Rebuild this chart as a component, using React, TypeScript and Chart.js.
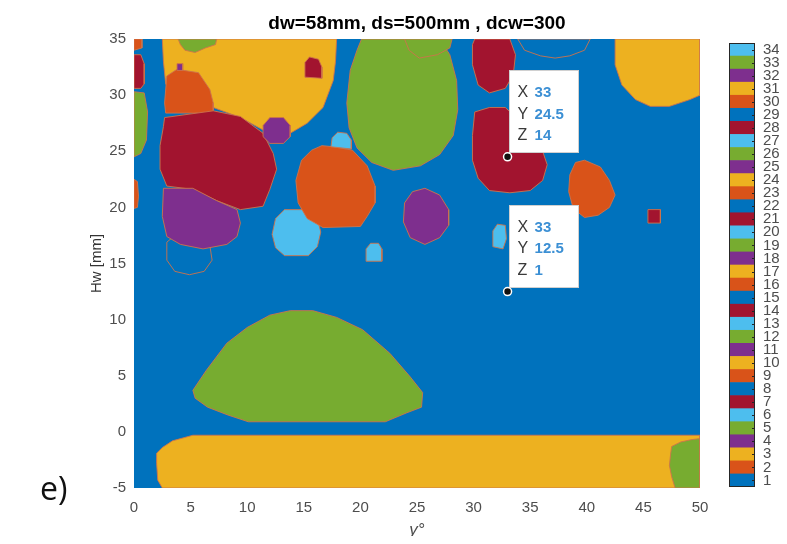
import React, { useEffect, useRef } from 'react';
import { Chart, registerables } from 'chart.js';

Chart.register(...registerables);

const FONT = '"Liberation Sans", Arial, Helvetica, sans-serif';
const TEXT_GREY = '#4d4d4d';

// MATLAB "lines" colour order, cycled by region label
const LINE_COLORS = ['#0072BD', '#D95319', '#EDB120', '#7E2F8E', '#77AC30', '#4DBEEE', '#A2142F'];
const colorOfLabel = (z: number) => LINE_COLORS[(z - 1) % LINE_COLORS.length];

// axis ranges and ticks
const X_RANGE = [0, 50];
const Y_RANGE = [-5, 35];
const TICK_STEP = 5;
const LABEL_LEVELS = Array.from({ length: 34 }, (_, i) => i + 1);

type Pt = [number, number];

// labelled regions: outline vertices in (gamma, Hw)
const background: Pt[] = [[0, -5], [50, -5], [50, 35], [0, 35]];
const bottomBand: Pt[] = [[2.5, -5], [2.1, -4.3], [2.0, -2.8], [2.0, -1.9], [2.5, -1.4], [3.4, -0.8], [5.2, -0.3], [50, -0.3], [50, -5]];
const bottomRightGreen: Pt[] = [[47.8, -5], [47.5, -4], [47.3, -3], [47.4, -2], [47.5, -1.3], [48.3, -0.9], [49.2, -0.7], [50, -0.6], [50, -5]];
const dome: Pt[] = [[5.2, 3.7], [6.4, 5.5], [8.2, 7.9], [10.0, 9.3], [12.0, 10.4], [13.8, 10.8], [15.8, 10.8], [17.9, 10.2], [20.2, 9.1], [22.6, 7.0], [24.4, 4.9], [25.5, 3.5], [25.4, 2.2], [24.1, 1.7], [22.2, 0.9], [10.1, 0.9], [8.3, 1.5], [6.5, 2.2], [5.4, 3.0]];
const upperLeftYellow: Pt[] = [[2.5, 35], [17.9, 35], [17.8, 33], [17.6, 31.3], [16.7, 28.9], [15.3, 27.5], [13.8, 26.6], [12.5, 26.5], [11.4, 26.9], [9.4, 28.0], [7.0, 28.9], [4.0, 29.5], [2.8, 31], [2.6, 33]];
const topNotchGreen: Pt[] = [[3.9, 35], [7.3, 35], [7.2, 34.5], [6.3, 34.2], [5.4, 33.8], [4.5, 34.0], [4.1, 34.5]];
const upperLeftOrange: Pt[] = [[2.8, 28.4], [2.7, 29.3], [2.9, 31.7], [3.8, 32.3], [5.7, 32.0], [6.7, 30.5], [7.0, 29.3], [7.0, 28.4]];
const tinyPurple: Pt[] = [[3.8, 32.2], [3.8, 32.8], [4.3, 32.8], [4.3, 32.2]];
const leftRed: Pt[] = [[2.7, 28.0], [7.0, 28.6], [9.4, 28.1], [11.4, 26.6], [12.3, 24.8], [12.6, 23.4], [12.0, 21.6], [11.4, 20.1], [9.4, 19.8], [7.3, 20.6], [5.2, 21.6], [2.9, 21.9], [2.3, 23.4], [2.3, 25.5], [2.6, 27.2]];
const hollowRing: Pt[] = [[2.9, 16.9], [3.5, 17.4], [6.0, 17.4], [6.7, 16.6], [6.9, 15.3], [6.2, 14.3], [4.9, 14.0], [3.6, 14.3], [2.9, 15.3]];
const leftPurple: Pt[] = [[2.6, 21.7], [5.2, 21.7], [7.3, 20.6], [9.1, 19.8], [9.4, 18.6], [9.1, 17.4], [8.2, 16.7], [6.1, 16.3], [4.1, 16.7], [2.9, 17.4], [2.5, 19.2]];
const cyanDisc: Pt[] = [[13.3, 19.8], [15.3, 19.8], [16.2, 19.0], [16.5, 17.8], [16.2, 16.5], [15.4, 15.7], [13.3, 15.7], [12.5, 16.4], [12.2, 17.6], [12.5, 19.0]];
const smallPurple: Pt[] = [[12.0, 28.0], [13.2, 28.0], [13.8, 27.3], [13.8, 26.3], [13.2, 25.7], [12.0, 25.7], [11.4, 26.3], [11.4, 27.3]];
const redInYellow: Pt[] = [[15.1, 31.6], [15.1, 32.9], [15.5, 33.4], [16.3, 33.2], [16.6, 32.5], [16.6, 31.5]];
const midOrange: Pt[] = [[16.6, 25.5], [17.6, 25.4], [19.3, 25.1], [20.6, 23.7], [21.3, 21.9], [21.3, 20.4], [20.6, 19.2], [20.0, 18.3], [16.7, 18.2], [15.3, 19.0], [14.5, 20.4], [14.3, 22.4], [14.8, 24.2], [15.7, 25.1]];
const cyanKnob: Pt[] = [[17.4, 25.4], [17.5, 26.2], [18.0, 26.7], [18.8, 26.6], [19.2, 26.0], [19.2, 25.2]];
const bigGreen: Pt[] = [[18.8, 29.3], [19.1, 32.2], [19.7, 34.0], [20.1, 35], [27.0, 35], [27.9, 33.6], [28.5, 31.3], [28.6, 28.7], [28.2, 26.4], [27.0, 24.7], [25.3, 23.7], [22.9, 23.3], [21.0, 24.0], [19.7, 25.3], [19.0, 27.1]];
const greenCap: Pt[] = [[23.9, 35], [28.1, 35], [27.9, 34.2], [26.8, 33.6], [25.2, 33.3], [24.3, 34.0]];
const midPurple: Pt[] = [[25.7, 21.7], [27.0, 21.1], [27.8, 19.8], [27.8, 18.4], [27.0, 17.3], [25.7, 16.7], [24.4, 17.3], [23.8, 18.7], [23.9, 20.4], [24.6, 21.4]];
const smallCyanA: Pt[] = [[20.5, 15.2], [20.5, 16.3], [20.9, 16.8], [21.6, 16.8], [21.9, 16.3], [21.9, 15.2]];
const smallCyanB: Pt[] = [[31.7, 16.5], [31.7, 17.9], [32.1, 18.5], [32.8, 18.4], [32.9, 17.2], [32.6, 16.3]];
const topRed: Pt[] = [[30.1, 35], [33.2, 35], [33.7, 33.6], [33.5, 31.8], [32.8, 30.6], [31.4, 30.2], [30.4, 30.9], [29.9, 32.7], [29.9, 34.5]];
const rightRed: Pt[] = [[30.1, 28.5], [31.4, 28.9], [32.8, 28.9], [34.5, 27.3], [35.9, 25.6], [36.5, 23.8], [36.1, 22.4], [35.0, 21.5], [33.2, 21.3], [31.4, 21.5], [30.4, 22.6], [29.9, 24.2], [29.9, 26.4]];
const rightOrange: Pt[] = [[39.8, 24.2], [41.2, 23.6], [42.0, 22.4], [42.5, 21.1], [42.0, 20.0], [41.0, 19.3], [39.8, 19.1], [38.8, 19.9], [38.4, 21.4], [38.5, 22.9], [39.0, 24.0]];
const topRightYellow: Pt[] = [[42.5, 35], [50, 35], [50, 30.0], [49.1, 29.6], [47.3, 29.0], [45.6, 29.0], [44.3, 29.6], [43.1, 30.9], [42.5, 32.7]];
const hollowTop: Pt[] = [[33.9, 35], [40.3, 35], [39.8, 34.0], [38.5, 33.5], [37.2, 33.3], [35.9, 33.5], [34.5, 34.0]];
const redSquare: Pt[] = [[45.4, 18.6], [45.4, 19.8], [46.5, 19.8], [46.5, 18.6]];
const edgeOrange: Pt[] = [[0, 34.0], [0, 35], [0.7, 35], [0.7, 34.2]];
const edgeRed: Pt[] = [[0, 30.6], [0, 33.6], [0.6, 33.6], [0.9, 32.8], [0.9, 31.0], [0.6, 30.6]];
const edgeGreen: Pt[] = [[0, 24.5], [0, 30.3], [0.9, 30.2], [1.2, 28.5], [1.1, 26.0], [0.6, 24.8]];
const edgeOrangeLow: Pt[] = [[0, 19.9], [0, 22.5], [0.3, 22.3], [0.4, 21], [0.3, 20]];

// region labels (Z), listed bottom-most first
const regionLabels = [1, 3, 5, 12, 10, 19, 9, 25, 7, 8, 4, 6, 11, 21, 16, 13, 26, 33, 18, 20, 27, 28, 14, 30, 31, 22, 21, 2, 7, 5, 23];
const regionOutlines: Pt[][] = [
  background, bottomBand, bottomRightGreen, dome, upperLeftYellow, topNotchGreen, upperLeftOrange, tinyPurple,
  leftRed, hollowRing, leftPurple, cyanDisc, smallPurple, redInYellow, midOrange, cyanKnob, bigGreen, greenCap,
  midPurple, smallCyanA, smallCyanB, topRed, rightRed, rightOrange, topRightYellow, hollowTop, redSquare,
  edgeOrange, edgeRed, edgeGreen, edgeOrangeLow,
];

// data tips
const tipX = [33, 33];
const tipY = [24.5, 12.5];
const tipZ = [14, 1];

const TITLE = 'dw=58mm, ds=500mm , dcw=300';
const X_TITLE = 'γ°';
const Y_TITLE = 'Hw [mm]';
const PANEL_TAG = 'e)';

const dataTipPlugin = {
  id: 'dataTips',
  afterDatasetsDraw(chart: any) {
    const { ctx, scales } = chart;
    ctx.save();
    tipX.forEach((tx, i) => {
      const px = scales.x.getPixelForValue(tx);
      const py = scales.y.getPixelForValue(tipY[i]);
      const left = Math.round(px) + 1.5;
      const top = Math.round(py) - 86.5;
      ctx.fillStyle = '#ffffff';
      ctx.fillRect(left, top, 69, 82);
      ctx.strokeStyle = '#d0d0d0';
      ctx.lineWidth = 1;
      ctx.strokeRect(left, top, 69, 82);
      const rows: [string, number][] = [['X', tx], ['Y', tipY[i]], ['Z', tipZ[i]]];
      ctx.textBaseline = 'middle';
      ctx.textAlign = 'left';
      rows.forEach(([k, v], r) => {
        const ry = py - 64 + r * 21.5;
        ctx.fillStyle = '#3a3a3a';
        ctx.font = `16px ${FONT}`;
        ctx.fillText(k, px + 10, ry);
        ctx.fillStyle = '#3b8fd4';
        ctx.font = `bold 15px ${FONT}`;
        ctx.fillText(String(v), px + 27, ry);
      });
      ctx.beginPath();
      ctx.arc(px, py, 4, 0, Math.PI * 2);
      ctx.fillStyle = '#111';
      ctx.fill();
      ctx.lineWidth = 1.5;
      ctx.strokeStyle = '#ffffff';
      ctx.stroke();
    });
    ctx.restore();
  },
};

const colorbarFramePlugin = {
  id: 'colorbarFrame',
  afterDatasetsDraw(chart: any) {
    const { ctx, chartArea: a, scales } = chart;
    ctx.save();
    ctx.strokeStyle = '#262626';
    ctx.lineWidth = 1;
    ctx.beginPath();
    LABEL_LEVELS.forEach((z) => {
      const y = Math.round(scales.y.getPixelForValue(z)) + 0.5;
      ctx.moveTo(a.right - 3, y);
      ctx.lineTo(a.right, y);
    });
    ctx.stroke();
    ctx.strokeRect(Math.round(a.left) + 0.5, Math.round(a.top) + 0.5, a.right - a.left - 1, a.bottom - a.top - 1);
    ctx.restore();
  },
};

export default function App() {
  const mainRef = useRef<HTMLCanvasElement | null>(null);
  const barRef = useRef<HTMLCanvasElement | null>(null);

  useEffect(() => {
    if (!mainRef.current || !barRef.current) return;

    const datasets = regionOutlines.map((pts, i) => {
      const z = regionLabels[i];
      const closed = [...pts, pts[0]];
      return {
        data: closed.map(([x, y]) => ({ x, y })),
        fill: 'shape',
        backgroundColor: colorOfLabel(z),
        borderColor: i === 0 ? colorOfLabel(z) : 'rgba(205,115,75,0.9)',
        borderWidth: i === 0 ? 0 : 1,
        pointRadius: 0,
        tension: 0,
        order: -i,
      };
    });

    const main = new Chart(mainRef.current, {
      type: 'line',
      data: { datasets: datasets as any },
      plugins: [dataTipPlugin],
      options: {
        responsive: false,
        animation: false,
        devicePixelRatio: 1,
        events: [],
        layout: { padding: { left: 0, right: 20, top: 0, bottom: 0 } },
        plugins: {
          legend: { display: false },
          tooltip: { enabled: false },
          title: {
            display: true,
            text: TITLE,
            fullSize: false,
            color: '#000',
            font: { family: FONT, size: 19, weight: 'bold' },
            padding: { top: 4, bottom: 4.2 },
          },
        },
        scales: {
          x: {
            type: 'linear',
            min: X_RANGE[0],
            max: X_RANGE[1],
            grid: { display: false, drawTicks: false },
            border: { display: false },
            ticks: { stepSize: TICK_STEP, color: TEXT_GREY, font: { family: FONT, size: 15 }, padding: 11, maxRotation: 0, autoSkip: false },
            title: { display: true, text: X_TITLE, color: TEXT_GREY, font: { family: FONT, size: 17, style: 'italic' }, padding: { top: 0, bottom: -4 } },
            afterFit: (s: any) => { s.height = 48; s.paddingLeft = 0; s.paddingRight = 0; },
          },
          y: {
            type: 'linear',
            min: Y_RANGE[0],
            max: Y_RANGE[1],
            grid: { display: false, drawTicks: false },
            border: { display: false },
            ticks: { stepSize: TICK_STEP, color: TEXT_GREY, font: { family: FONT, size: 15 }, padding: 8, autoSkip: false },
            title: { display: true, text: Y_TITLE, color: '#333', font: { family: FONT, size: 15 }, padding: { top: 80, bottom: 0 } },
            afterFit: (s: any) => { s.width = 126; s.paddingTop = 0; s.paddingBottom = 0; },
          },
        },
      },
    });

    const bar = new Chart(barRef.current, {
      type: 'bar',
      data: {
        labels: [''],
        datasets: LABEL_LEVELS.map((z) => ({
          data: [[z - 0.5, z + 0.5]],
          backgroundColor: colorOfLabel(z),
          borderWidth: 0,
          grouped: false,
          barPercentage: 1,
          categoryPercentage: 1,
        })) as any,
      },
      plugins: [colorbarFramePlugin],
      options: {
        responsive: false,
        animation: false,
        devicePixelRatio: 1,
        events: [],
        layout: { padding: { left: 0, right: 0, top: 5, bottom: 13 } },
        plugins: { legend: { display: false }, tooltip: { enabled: false }, title: { display: false } },
        scales: {
          x: { display: false },
          y: {
            position: 'right',
            min: 0.5,
            max: 34.5,
            grid: { display: false, drawTicks: false },
            border: { display: false },
            afterBuildTicks: (s: any) => { s.ticks = LABEL_LEVELS.map((v) => ({ value: v })); },
            ticks: { autoSkip: false, color: TEXT_GREY, font: { family: FONT, size: 15 }, padding: 8 },
            afterFit: (s: any) => { s.width = 32; s.paddingTop = 0; s.paddingBottom = 0; },
          },
        },
      },
    });

    return () => {
      main.destroy();
      bar.destroy();
    };
  }, []);

  return (
    <div style={{ position: 'relative', width: 779, height: 528, overflow: 'hidden', background: '#fff' }}>
      <canvas ref={mainRef} width={712} height={528} style={{ position: 'absolute', left: 0, top: 0, width: 712, height: 528 }} />
      <canvas ref={barRef} width={58} height={462} style={{ position: 'absolute', left: 721, top: 30, width: 58, height: 462 }} />
      <div style={{ position: 'absolute', left: 32, top: 460, fontFamily: '"Open Sans", "Liberation Sans", sans-serif', fontSize: 32, color: '#111', lineHeight: '40px' }}>
        {PANEL_TAG}
      </div>
    </div>
  );
}
